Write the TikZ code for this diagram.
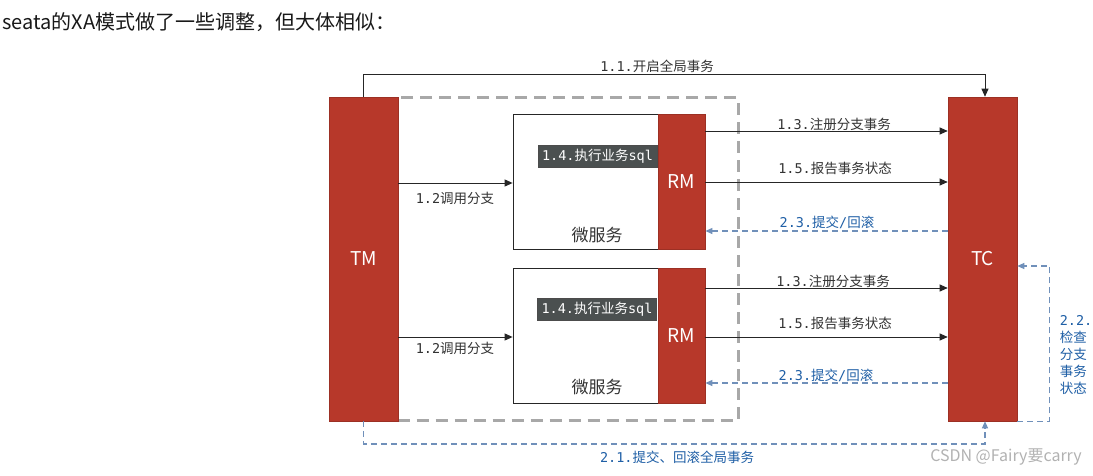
\documentclass[tikz,border=0pt]{standalone}
\usepackage{fontspec}
\setmainfont{Noto Sans CJK SC}
\newfontfamily\mono{DejaVu Sans Mono}
\usetikzlibrary{arrows.meta}
\definecolor{redbox}{HTML}{B7382A}
\definecolor{labelblue}{HTML}{1F5FA6}
\definecolor{dashblue}{HTML}{7090BA}
\definecolor{txt}{HTML}{333333}
\definecolor{tagc}{HTML}{4B5050}
\definecolor{grpgray}{HTML}{A8A8A8}
\begin{document}
\begin{tikzpicture}[x=1pt,y=-1pt,
  comp/.style={fill=redbox,draw=redbox!85!black,line width=0.6pt,minimum width=69pt,minimum height=324pt,inner sep=0pt,font=\fontsize{19}{19}\selectfont,text=white},
  msbox/.style={draw=black!85,fill=white,line width=0.8pt,minimum width=192pt,minimum height=135pt,inner sep=0pt},
  rmbox/.style={fill=redbox,draw=redbox!85!black,line width=0.6pt,minimum width=47pt,minimum height=135pt,inner sep=0pt,font=\fontsize{19}{19}\selectfont,text=white},
  tagbox/.style={fill=tagc,draw=black!70,line width=0.5pt,text=white,font=\fontsize{13.5}{13.5}\selectfont,inner xsep=4pt,inner ysep=4pt},
  grp/.style={draw=grpgray,line width=3pt,dash pattern=on 12pt off 7pt},
  arr/.style={draw=black!85,line width=0.9pt,-{Triangle[length=8pt,width=7pt]}},
  barr/.style={draw=dashblue,line width=1.1pt,dash pattern=on 6pt off 4pt,-{Triangle[length=7pt,width=6pt]}},
  lbl/.style={text=txt,font=\fontsize{13.5}{13.5}\selectfont,inner sep=0pt},
  blbl/.style={text=labelblue,font=\fontsize{13.5}{13.5}\selectfont,inner sep=0pt},
  svc/.style={text=txt,font=\fontsize{17}{17}\selectfont,inner sep=0pt}
]
\useasboundingbox[fill=white] (0,0) rectangle (1093,475);

\node[anchor=west,text=black!90,font=\fontsize{20}{20}\selectfont,inner sep=0pt] (title) at (2,22) {seata的XA模式做了一些调整，但大体相似：};

% group
\draw[grp] (397,97.5) rectangle (738,420);

% TM / TC
\node[comp] (TM) at (363.5,259) {TM};
\node[comp] (TC) at (982.5,259) {TC};

% microservice 1
\node[msbox] (ms1) at (609,181.5) {};
\node[rmbox,anchor=north east] (RM1) at (ms1.north east) {RM};
\node[tagbox] (tag1) at (597.5,156) {{\mono 1.4.}执行业务{\mono sql}};
\node[svc] (svc1) at (597,235) {微服务};

% microservice 2
\node[msbox] (ms2) at (609,335.5) {};
\node[rmbox,anchor=north east] (RM2) at (ms2.north east) {RM};
\node[tagbox] (tag2) at (597,309.5) {{\mono 1.4.}执行业务{\mono sql}};
\node[svc] (svc2) at (597,387) {微服务};

% 1.1
\draw[arr] (TM.north) -- (TM.north |- 0,74) -| ([xshift=2.5pt]TC.north);
\node[lbl] (l11) at (657,66) {{\mono 1.1.}开启全局事务};

% 1.2
\draw[arr] (TM.east |- 0,183) -- (ms1.west |- 0,183);
\node[lbl] (l12a) at (455,198) {{\mono 1.2}调用分支};
\draw[arr] (TM.east |- 0,337) -- (ms2.west |- 0,337);
\node[lbl] (l12b) at (455,348) {{\mono 1.2}调用分支};

% service 1 <-> TC
\draw[arr] (RM1.east |- 0,131) -- (TC.west |- 0,131);
\node[lbl] (l13a) at (834,124) {{\mono 1.3.}注册分支事务};
\draw[arr] (RM1.east |- 0,182) -- (TC.west |- 0,182);
\node[lbl] (l15a) at (835,168) {{\mono 1.5.}报告事务状态};
\draw[barr] (TC.west |- 0,231) -- (RM1.east |- 0,231);
\node[blbl] (l23a) at (827,222) {{\mono 2.3.}提交{\mono /}回滚};

% service 2 <-> TC
\draw[arr] (RM2.east |- 0,288) -- (TC.west |- 0,288);
\node[lbl] (l13b) at (833,281) {{\mono 1.3.}注册分支事务};
\draw[arr] (RM2.east |- 0,337) -- (TC.west |- 0,337);
\node[lbl] (l15b) at (835,323) {{\mono 1.5.}报告事务状态};
\draw[barr] (TC.west |- 0,383) -- (RM2.east |- 0,383);
\node[blbl] (l23b) at (826,375) {{\mono 2.3.}提交{\mono /}回滚};

% 2.1
\draw[barr] (TM.south) -- (TM.south |- 0,444) -| ([xshift=2.5pt]TC.south);
\node[blbl] (l21) at (677,457) {{\mono 2.1.}提交、回滚全局事务};

% 2.2
\draw[barr] (TC.south east) -- ++(32,0) |- (TC.east |- 0,266);
\node[blbl,align=left,font=\fontsize{13.5}{17}\selectfont] (l22) at (1076,355) {{\mono 2.2.}\\检查\\分支\\事务\\状态};

% watermark
\node[text=black!30,font=\fontsize{16}{16}\selectfont,inner sep=0pt] (wm) at (1006,457) {CSDN @Fairy要carry};
\end{tikzpicture}
\end{document}
